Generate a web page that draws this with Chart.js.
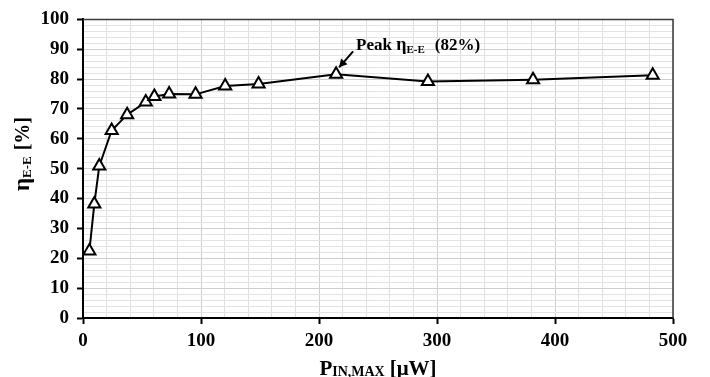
<!DOCTYPE html>
<html>
<head>
<meta charset="utf-8">
<script src="https://cdn.jsdelivr.net/npm/chart.js@4"></script>
<style>
  html, body { margin: 0; padding: 0; background: #fff; }
  #wrap { width: 710px; height: 377px; position: relative; }
</style>
</head>
<body>
<div id="wrap"><canvas id="grafico"></canvas></div>
<script>
// P_IN,MAX [µW] and end-to-end efficiency [%]
const pinMax = [5.4, 9.6, 13.8, 24.3, 37.4, 53.2, 60.5, 73, 95.4, 120.5, 148.8, 214.5, 292.3, 381.4, 482.8];
const effEE  = [22.4, 38.2, 50.9, 62.8, 68.1, 72.3, 74.2, 75.0, 74.9, 77.7, 78.4, 81.6, 79.2, 79.8, 81.3];
const xTicks = [0, 100, 200, 300, 400, 500];
const yTicks = [0, 10, 20, 30, 40, 50, 60, 70, 80, 90, 100];
const peakIdx = 11;

const SERIF = "'Liberation Serif', 'Times New Roman', serif";

// draws a run of text pieces (with subscripts) starting at x
function drawRuns(ctx, runs, x, y, align) {
  let total = 0;
  runs.forEach(r => {
    ctx.font = "bold " + r.size + "px " + SERIF;
    r.w = ctx.measureText(r.text).width;
    total += r.w + (r.gap || 0);
  });
  let cx = align === "center" ? x - total / 2 : x;
  runs.forEach(r => {
    ctx.font = "bold " + r.size + "px " + SERIF;
    ctx.fillText(r.text, cx, y + (r.dy || 0));
    cx += r.w + (r.gap || 0);
  });
}

const extras = {
  id: "extras",
  afterDatasetsDraw(chart) {
    const { ctx, chartArea: a, scales } = chart;
    ctx.save();
    // frame top / right
    ctx.strokeStyle = "#3a3a3a";
    ctx.lineWidth = 1.5;
    ctx.beginPath();
    ctx.moveTo(a.left, a.top);
    ctx.lineTo(a.right, a.top);
    ctx.lineTo(a.right, a.bottom);
    ctx.stroke();

    // peak annotation
    const px = scales.x.getPixelForValue(pinMax[peakIdx]);
    const py = scales.y.getPixelForValue(effEE[peakIdx]);
    const tx = px + 3, ty = py - 7;
    const sx = px + 17, sy = py - 23;
    ctx.strokeStyle = "#000";
    ctx.fillStyle = "#000";
    ctx.lineWidth = 2;
    ctx.beginPath();
    ctx.moveTo(sx, sy);
    ctx.lineTo(tx, ty);
    ctx.stroke();
    const ang = Math.atan2(ty - sy, tx - sx);
    ctx.beginPath();
    ctx.moveTo(tx, ty);
    ctx.lineTo(tx - 9 * Math.cos(ang - 0.5), ty - 9 * Math.sin(ang - 0.5));
    ctx.lineTo(tx - 9 * Math.cos(ang + 0.5), ty - 9 * Math.sin(ang + 0.5));
    ctx.closePath();
    ctx.fill();
    ctx.textBaseline = "alphabetic";
    ctx.textAlign = "left";
    drawRuns(ctx, [
      { text: "Peak ", size: 17 },
      { text: "\u03b7", size: 18 },
      { text: "E-E", size: 11, dy: 3, gap: 10 },
      { text: "(" + Math.round(effEE[peakIdx]) + "%)", size: 17 }
    ], px + 20, py - 24, "left");

    // x title
    drawRuns(ctx, [
      { text: "P", size: 21 },
      { text: "IN,MAX", size: 14, dy: 1, gap: 5 },
      { text: "[\u03bcW]", size: 21 }
    ], (a.left + a.right) / 2, 375, "center");

    // y title
    ctx.translate(29, 154);
    ctx.rotate(-Math.PI / 2);
    drawRuns(ctx, [
      { text: "\u03b7", size: 23 },
      { text: "E-E", size: 13, dy: 2, gap: 6 },
      { text: "[%]", size: 20 }
    ], 0, 0, "center");
    ctx.restore();
  }
};

new Chart(document.getElementById("grafico"), {
  type: "scatter",
  data: {
    datasets: [{
      data: pinMax.map((p, i) => ({ x: p, y: effEE[i] })),
      showLine: true,
      borderColor: "#000",
      borderWidth: 2,
      tension: 0,
      pointStyle: "triangle",
      pointRadius: 7,
      pointHoverRadius: 7,
      pointBackgroundColor: "#fff",
      pointBorderColor: "#000",
      pointBorderWidth: 2
    }]
  },
  options: {
    responsive: true,
    maintainAspectRatio: false,
    animation: false,
    events: [],
    layout: { padding: { top: 11, right: 37, left: 0, bottom: 0 } },
    plugins: { legend: { display: false }, tooltip: { enabled: false } },
    scales: {
      x: {
        type: "linear",
        min: xTicks[0],
        max: xTicks[xTicks.length - 1],
        afterFit: s => { s.height = 59; },
        border: { display: true, color: "#000", width: 2 },
        grid: {
          color: c => (c.tick && xTicks.includes(c.tick.value)) ? "#cfcfcf" : "#e0e0e0",
          tickColor: c => (c.tick && xTicks.includes(c.tick.value)) ? "#000" : "rgba(0,0,0,0)",
          tickLength: 6,
          tickWidth: 2,
          lineWidth: 1
        },
        ticks: {
          stepSize: 20,
          autoSkip: false,
          maxRotation: 0,
          padding: 6,
          color: "#000",
          font: { family: SERIF, size: 19, weight: "bold" },
          callback: v => xTicks.includes(v) ? v : ""
        }
      },
      y: {
        type: "linear",
        min: yTicks[0],
        max: yTicks[yTicks.length - 1],
        afterFit: s => { s.width = 83; },
        border: { display: true, color: "#000", width: 2 },
        grid: {
          color: c => (c.tick && yTicks.includes(c.tick.value)) ? "#cfcfcf" : "#e3e3e3",
          tickColor: c => (c.tick && yTicks.includes(c.tick.value)) ? "#000" : "rgba(0,0,0,0)",
          tickLength: 6,
          tickWidth: 2,
          lineWidth: 1
        },
        ticks: {
          stepSize: 2,
          autoSkip: false,
          padding: 8,
          color: "#000",
          font: { family: SERIF, size: 19, weight: "bold" },
          callback: v => yTicks.includes(v) ? v : ""
        }
      }
    }
  },
  plugins: [extras]
});
</script>
</body>
</html>
